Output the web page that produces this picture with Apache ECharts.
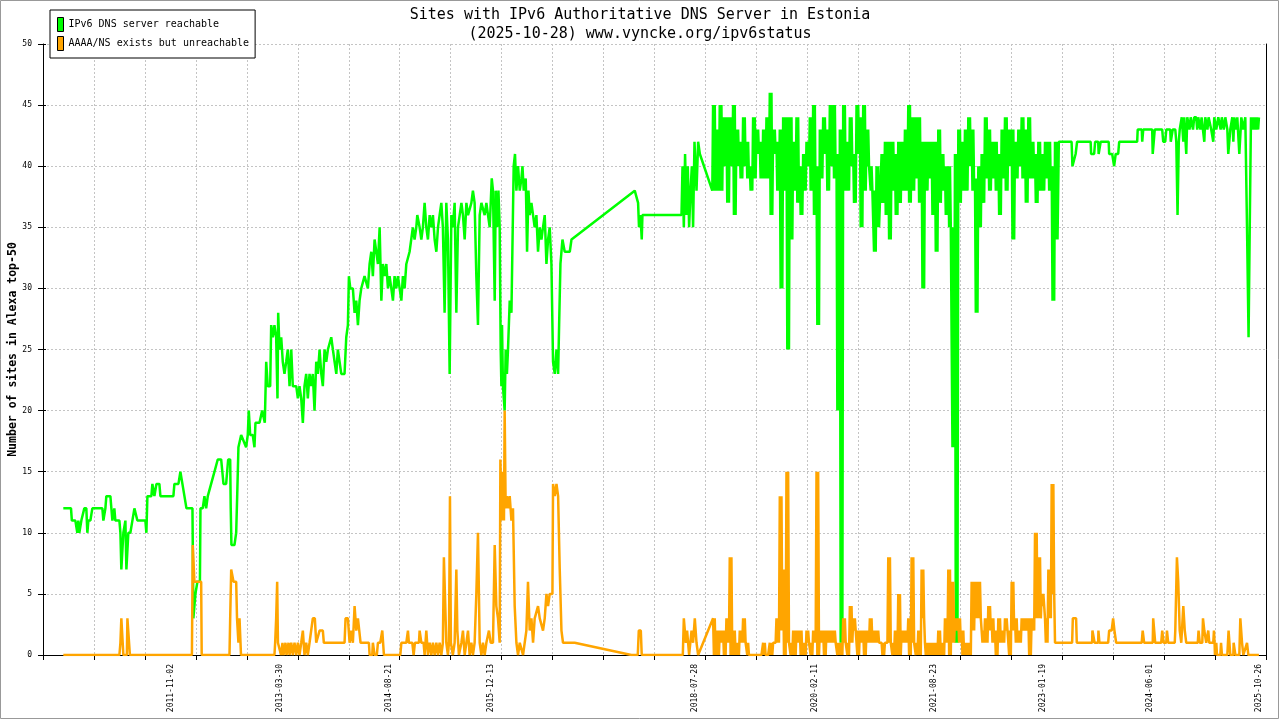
<!DOCTYPE html>
<html><head><meta charset="utf-8">
<script src="https://cdn.jsdelivr.net/npm/echarts@6/dist/echarts.min.js"></script>
<style>html,body{margin:0;padding:0;background:#fff}#c{width:1280px;height:720px}</style>
</head><body><div id="c"></div>
<script>
const titleLine1 = 'Sites with IPv6 Authoritative DNS Server in Estonia';
const titleLine2 = '(2025-10-28) www.vyncke.org/ipv6status';
const yAxisName = 'Number of sites in Alexa top-50';
const seriesNames = ['IPv6 DNS server reachable', 'AAAA/NS exists but unreachable'];
const xLabelDates = ['2011-11-02','2013-03-30','2014-08-21','2015-12-13','2018-07-28','2020-02-11','2021-08-23','2023-01-19','2024-06-01','2025-10-26'];
const xAxisStartYear = 2010.193;   // decimal year at the left axis
const xAxisSpanYears = 15.72;      // 24 tick intervals
const xTickYears = 0.655;
const yMin = 0, yMax = 50, yStep = 5;

// [decimal year, value]
const greenEarly = [[2010.454,12],[2010.553,12],[2010.564,11],[2010.609,11],[2010.634,10],[2010.647,11],[2010.660,10],[2010.686,11],[2010.724,12],[2010.750,12],[2010.763,10],[2010.776,11],[2010.802,11],[2010.827,12],[2010.956,12],[2010.969,11],[2010.995,12],[2011.007,13],[2011.059,13],[2011.072,12],[2011.085,11],[2011.110,12],[2011.123,11],[2011.175,11],[2011.188,10],[2011.200,7],[2011.226,10],[2011.252,11],[2011.265,7],[2011.290,10],[2011.316,10],[2011.342,11],[2011.368,12],[2011.393,12],[2011.406,11],[2011.509,11],[2011.522,10],[2011.535,13],[2011.586,13],[2011.599,14],[2011.625,13],[2011.651,14],[2011.689,14],[2011.702,13],[2011.869,13],[2011.882,14],[2011.934,14],[2011.959,15],[2011.985,14],[2012.011,13],[2012.037,12],[2012.114,12],[2012.126,3],[2012.152,5],[2012.178,6],[2012.210,6],[2012.217,12],[2012.246,12],[2012.268,13],[2012.290,12],[2012.311,13],[2012.333,13],[2012.354,14],[2012.397,15],[2012.439,16],[2012.483,16],[2012.513,14],[2012.547,14],[2012.573,16],[2012.599,16],[2012.606,12],[2012.615,9],[2012.654,9],[2012.676,10],[2012.689,13],[2012.705,17],[2012.740,18],[2012.804,17],[2012.825,18],[2012.838,20],[2012.856,18],[2012.889,18],[2012.911,17],[2012.924,19],[2012.976,19],[2013.010,20],[2013.044,19],[2013.062,24],[2013.082,22],[2013.113,22],[2013.126,27],[2013.147,26],[2013.168,27],[2013.190,26],[2013.207,21],[2013.216,28],[2013.233,25],[2013.255,26],[2013.275,24],[2013.297,23],[2013.319,24],[2013.340,25],[2013.362,22],
[2013.384,25],[2013.404,22],[2013.448,22],[2013.469,21],[2013.490,22],[2013.512,21],[2013.533,19],[2013.554,22],[2013.576,23],[2013.597,21],[2013.619,23],[2013.641,22],[2013.661,23],[2013.683,20],[2013.705,24],[2013.726,23],[2013.748,25],[2013.770,23],[2013.790,22],[2013.812,25],[2013.834,24],[2013.855,25],[2013.898,26],[2013.919,25],[2013.941,24],[2013.963,23],[2013.983,25],[2014.005,24],[2014.027,23],[2014.069,23],[2014.091,26],[2014.112,27],[2014.125,31],[2014.143,30],[2014.176,30],[2014.198,28],[2014.220,29],[2014.241,27],[2014.262,29],[2014.284,30],[2014.326,31],[2014.348,31],[2014.369,30],[2014.391,32],[2014.413,33],[2014.433,31],[2014.455,34],[2014.477,33],[2014.498,32],[2014.520,35],[2014.542,29],[2014.562,32],[2014.584,31],[2014.606,32],[2014.627,30],[2014.648,31],[2014.670,30],[2014.691,29],[2014.712,31],[2014.734,30],[2014.755,31],[2014.799,29],[2014.819,31],[2014.841,30],[2014.863,32],[2014.905,33],[2014.927,33],[2014.947,35],[2014.969,34],[2014.991,35],[2015.004,36],[2015.034,35],[2015.056,34],[2015.076,35],[2015.098,37],[2015.120,35],[2015.141,34],[2015.163,36],[2015.185,35],[2015.205,36],[2015.227,34],[2015.249,33],[2015.270,35],[2015.291,36],[2015.313,37],[2015.333,35],[2015.355,28],[2015.377,37],[2015.398,34],[2015.420,23],[2015.442,36],[2015.461,35],[2015.484,37],[2015.506,28],[2015.527,35],[2015.549,36],[2015.571,37],[2015.591,36],[2015.613,34],[2015.635,37],[2015.656,36],[2015.677,36],[2015.699,37],[2015.719,38],[2015.741,37],[2015.763,31],[2015.784,27],[2015.806,36],[2015.828,37],[2015.848,37],[2015.870,36],[2015.892,37],[2015.913,36],[2015.935,35],[2015.948,37],[2015.961,39],[2015.977,38],[2015.999,29],[2016.012,38],[2016.029,35],[2016.047,38],[2016.063,35],[2016.076,25],[2016.085,22],[2016.093,27],[2016.105,22],[2016.127,20],[2016.140,25],[2016.156,23],[2016.170,25],[2016.192,29],[2016.214,28],[2016.226,33],[2016.243,40],[2016.260,41],[2016.278,38],[2016.299,40],[2016.321,38],[2016.343,39],[2016.356,40],[2016.372,38],[2016.398,39],[2016.415,33],[2016.433,38],[2016.449,36],[2016.471,37],[2016.492,36],[2016.513,35],[2016.535,36],[2016.556,33],[2016.578,35],[2016.600,34],[2016.620,35],[2016.642,36],[2016.664,32],[2016.685,34],[2016.706,35],[2016.728,32],[2016.749,24],[2016.771,23],[2016.793,25],[2016.814,23],[2016.827,27],[2016.844,32],[2016.870,34],[2016.899,33],[2016.964,33],[2016.986,34],[2017.799,38],[2017.821,38],[2017.842,37],[2017.854,35],[2017.873,36],[2017.889,34],[2017.898,36],[2018.400,36],[2018.413,40],[2018.430,35],[2018.446,41],[2018.464,36],[2018.481,40],[2018.498,35],[2018.516,38],[2018.533,40],[2018.549,35],[2018.567,42],[2018.593,38],[2018.614,42],[2018.636,41],[2018.796,38]];

// dense periods: per column the top and bottom of the inked band, columns evenly spread over the span
const denseSpanA = [2018.806, 2020.950];
const denseSpanB = [2020.972, 2023.244];
const greenHighA = [45,43,45,44,44,44,45,43,42,44, 42,40,44,43,42,43,44,46,43,42, 43,44,44,44,42,44,40,41,42,44, 45,40,43,44,43,45,45,41,43,45, 42,44,41,45,44,45,43,40,38,40];
const greenLowA  = [38,38,38,40,37,40,36,40,39,40, 39,38,39,41,39,39,39,36,41,38, 30,38,25,34,38,37,36,38,40,38, 36,27,39,41,38,40,39,20,1,38, 38,40,37,41,35,38,40,38,33,35];
const greenHighB = [41,42,42,42,41,42,42,43,45,44, 44,44,42,42,42,42,42,43,41,40, 40,35,41,43,42,43,44,43,39,40, 41,44,43,42,42,41,43,44,43,43, 42,43,44,43,44,42,41,42,41,42, 42,40,42];
const greenLowB  = [37,36,34,38,36,37,38,38,37,38, 39,37,30,38,39,36,33,37,38,36, 35,17,1,37,38,38,40,38,28,35, 37,39,38,39,38,36,39,38,40,34, 39,40,39,37,39,39,37,38,38,39, 38,29,34];
const orangeHighA = [3,2,2,2,3,8,2,1,2,3, 1,0,0,0,0,1,0,1,1,3, 13,7,15,1,2,2,2,1,2,1, 2,15,2,2,2,2,2,1,1,3, 1,4,3,2,2,2,2,3,2,2];
const orangeLowA  = [0,0,1,0,1,0,0,0,1,1, 0,0,0,0,0,0,0,0,1,1, 2,0,1,0,0,1,0,0,1,0, 1,0,1,0,1,1,1,0,0,1, 0,1,2,0,1,0,1,1,1,1];
const orangeHighB = [1,1,8,1,2,5,2,2,3,8, 1,2,7,1,1,1,1,2,1,3, 7,6,3,3,2,1,1,6,6,6, 2,3,4,3,2,3,2,3,2,6, 3,2,3,3,3,3,10,8,5,3, 7,14,1];
const orangeLowB  = [0,1,1,0,0,0,1,1,0,1, 0,0,3,0,0,0,0,0,0,1, 0,1,2,1,0,0,0,2,3,3, 1,1,2,1,0,1,1,2,0,2, 1,1,2,2,0,2,3,3,4,1, 3,5,1];

const greenLate = [[2023.250,42],[2023.414,42],[2023.425,40],[2023.446,40],[2023.466,41],[2023.485,42],[2023.659,42],[2023.665,41],[2023.704,41],[2023.717,42],[2023.756,42],[2023.762,41],[2023.782,41],[2023.788,42],[2023.891,42],[2023.897,41],[2023.936,41],[2023.961,40],[2023.981,41],[2024.013,41],[2024.026,42],[2024.257,42],[2024.264,43],[2024.316,43],[2024.322,42],[2024.335,43],[2024.450,43],[2024.457,41],[2024.476,41],[2024.483,43],[2024.579,43],[2024.592,42],[2024.618,42],[2024.631,43],[2024.682,43],[2024.689,42],[2024.708,42],[2024.714,43],[2024.747,43],[2024.760,42],[2024.776,36],[2024.792,42],[2024.804,43],[2024.830,44],[2024.850,42],[2024.862,44],[2024.888,41],[2024.901,44],[2024.930,43],[2024.945,44],[2024.975,43],[2024.990,44],[2025.016,44],[2025.029,43],[2025.042,44],[2025.070,43],[2025.085,44],[2025.107,44],[2025.120,42],[2025.132,44],[2025.160,43],[2025.175,44],[2025.197,44],[2025.209,43],[2025.235,42],[2025.248,44],[2025.274,43],[2025.300,44],[2025.330,43],[2025.345,44],[2025.370,43],[2025.390,44],[2025.416,43],[2025.428,41],[2025.454,43],[2025.480,44],[2025.493,42],[2025.506,44],[2025.525,43],[2025.544,44],[2025.570,41],[2025.596,44],[2025.620,43],[2025.647,44],[2025.669,35],[2025.689,26],[2025.704,35],[2025.720,44],[2025.735,43],[2025.749,44],[2025.762,43],[2025.775,44],[2025.790,43],[2025.801,44],[2025.812,43],[2025.822,44]];

const orangeEarly = [[2010.454,0],[2011.175,0],[2011.188,1],[2011.200,3],[2011.213,3],[2011.226,0],[2011.271,0],[2011.278,3],[2011.297,3],[2011.310,0],[2012.107,0],[2012.118,9],[2012.133,9],[2012.139,6],[2012.226,6],[2012.233,0],[2012.590,0],[2012.599,3],[2012.612,7],[2012.633,7],[2012.642,6],[2012.676,6],[2012.687,3],[2012.705,1],[2012.719,3],[2012.738,0],[2013.168,0],[2013.177,1],[2013.190,3],[2013.203,6],[2013.213,1],[2013.233,1],[2013.252,0],[2013.271,1],[2013.284,0],[2013.310,1],[2013.323,0],[2013.349,1],[2013.362,0],
[2013.384,1],[2013.404,0],[2013.426,1],[2013.448,0],[2013.469,1],[2013.490,0],[2013.512,1],[2013.533,2],[2013.554,0],[2013.576,1],[2013.597,0],[2013.619,1],[2013.641,1],[2013.661,3],[2013.687,3],[2013.705,1],[2013.748,2],[2013.790,2],[2013.803,1],[2014.069,1],[2014.082,3],[2014.112,3],[2014.134,1],[2014.155,2],[2014.176,1],[2014.198,4],[2014.220,2],[2014.241,3],[2014.262,3],[2014.275,1],[2014.382,1],[2014.391,0],[2014.425,0],[2014.433,1],[2014.455,0],[2014.484,0],[2014.498,1],[2014.528,1],[2014.554,2],[2014.575,0],[2014.786,0],[2014.799,1],[2014.863,1],[2014.884,2],[2014.896,1],[2014.940,1],[2014.957,0],[2014.973,1],[2015.025,1],[2015.034,2],[2015.056,1],[2015.085,1],[2015.098,0],[2015.120,2],[2015.141,0],[2015.163,1],[2015.185,0],[2015.205,1],[2015.227,0],[2015.249,1],[2015.270,0],[2015.291,1],[2015.313,0],[2015.333,1],[2015.346,8],[2015.364,8],[2015.377,1],[2015.398,0],[2015.411,1],[2015.424,13],[2015.436,1],[2015.461,0],[2015.484,1],[2015.506,7],[2015.519,2],[2015.539,0],[2015.571,1],[2015.591,2],[2015.613,0],[2015.635,1],[2015.656,2],[2015.677,0],[2015.699,1],[2015.719,0],[2015.741,1],[2015.763,5],[2015.784,10],[2015.806,1],[2015.828,0],[2015.848,1],[2015.870,0],[2015.892,1],[2015.925,2],[2015.948,1],[2015.977,1],[2015.999,9],[2016.020,4],[2016.041,3],[2016.063,1],[2016.072,16],[2016.089,11],[2016.105,15],[2016.118,11],[2016.127,20],[2016.140,12],[2016.156,13],[2016.175,12],[2016.192,13],[2016.214,11],[2016.234,12],[2016.256,4],[2016.278,1],[2016.299,0],[2016.321,1],[2016.363,0],[2016.406,2],[2016.427,6],[2016.449,2],[2016.471,3],[2016.492,1],[2016.513,3],[2016.556,4],[2016.578,3],[2016.620,2],[2016.642,3],[2016.664,5],[2016.685,4],[2016.706,5],[2016.741,5],[2016.749,14],[2016.771,13],[2016.793,14],[2016.814,13],[2016.835,7],[2016.857,2],[2016.877,1],[2017.027,1],[2017.757,0],[2017.838,0],[2017.851,2],[2017.877,2],[2017.889,0],[2018.417,0],[2018.430,3],[2018.456,1],[2018.472,2],[2018.498,0],[2018.529,2],[2018.549,1],[2018.571,3],[2018.593,1],[2018.614,0]];

const orangeLate = [[2023.267,1],[2023.421,1],[2023.430,3],[2023.472,3],[2023.481,1],[2023.678,1],[2023.682,2],[2023.704,2],[2023.710,1],[2023.756,1],[2023.759,2],[2023.772,1],[2023.884,1],[2023.897,2],[2023.929,2],[2023.948,3],[2023.965,2],[2023.987,1],[2024.315,1],[2024.328,2],[2024.347,1],[2024.457,1],[2024.463,3],[2024.489,1],[2024.566,1],[2024.579,2],[2024.598,1],[2024.631,1],[2024.640,2],[2024.656,1],[2024.740,1],[2024.747,2],[2024.768,8],[2024.785,6],[2024.804,2],[2024.824,1],[2024.850,4],[2024.869,2],[2024.888,1],[2025.036,1],[2025.046,2],[2025.062,1],[2025.094,1],[2025.103,3],[2025.120,2],[2025.145,1],[2025.171,2],[2025.184,1],[2025.235,1],[2025.244,2],[2025.252,1],[2025.257,0],[2025.274,1],[2025.283,0],[2025.326,0],[2025.335,1],[2025.347,0],[2025.416,0],[2025.432,2],[2025.454,0],[2025.493,0],[2025.497,1],[2025.519,0],[2025.570,0],[2025.583,3],[2025.605,1],[2025.622,0],[2025.669,1],[2025.686,0],[2025.822,0]];

const FONT = 'DejaVu Sans Mono';
// each column is drawn as a tight up/down stroke pair covering its band
function zigzag(span, hi, lo) {
  const step = (span[1] - span[0]) / hi.length, out = [];
  for (let i = 0; i < hi.length; i++) {
    const t = span[0] + i * step;
    out.push([t, hi[i]], [t + step * 0.25, lo[i]], [t + step * 0.5, hi[i]], [t + step * 0.75, lo[i]]);
  }
  return out;
}
function toAxis(points) { return points.map(p => [p[0] - xAxisStartYear, p[1]]); }
const greenData = toAxis([].concat(greenEarly, zigzag(denseSpanA, greenHighA, greenLowA), zigzag(denseSpanB, greenHighB, greenLowB), greenLate));
const orangeData = toAxis([].concat(orangeEarly, zigzag(denseSpanA, orangeHighA, orangeLowA), zigzag(denseSpanB, orangeHighB, orangeLowB), orangeLate));

function decYear(s) {
  const [y, m, d] = s.split('-').map(Number);
  const t = Date.UTC(y, m - 1, d), a = Date.UTC(y, 0, 1), b = Date.UTC(y + 1, 0, 1);
  return y + (t - a) / (b - a);
}
const labelOffsets = xLabelDates.map(s => decYear(s) - xAxisStartYear);
function labelFor(v) {
  let best = 0;
  labelOffsets.forEach((o, i) => { if (Math.abs(o - v) < Math.abs(labelOffsets[best] - v)) best = i; });
  return xLabelDates[best];
}

const gridLine = {show: true, lineStyle: {color: '#c4c4c4', type: [2, 2], width: 1}};
const chart = echarts.init(document.getElementById('c'), null, {renderer: 'canvas'});
chart.setOption({
  animation: false,
  backgroundColor: '#fff',
  title: [
    {text: titleLine1, left: 'center', top: 3, textStyle: {fontFamily: FONT, fontSize: 15, fontWeight: 'normal', color: '#000'}},
    {text: titleLine2, left: 'center', top: 22, textStyle: {fontFamily: FONT, fontSize: 15, fontWeight: 'normal', color: '#000'}}
  ],
  legend: {
    left: 50, top: 10, orient: 'vertical', padding: [7, 6, 7, 7], itemGap: 4,
    itemWidth: 6, itemHeight: 14, icon: 'rect',
    backgroundColor: '#fff', borderColor: '#000', borderWidth: 1, borderRadius: 0,
    textStyle: {fontFamily: FONT, fontSize: 10, color: '#000'},
    itemStyle: {borderColor: '#000', borderWidth: 1},
    data: seriesNames
  },
  grid: {left: 43, right: 14, top: 44, bottom: 65, containLabel: false, outerBoundsMode: 'none'},
  xAxis: {
    type: 'value', min: 0, max: xAxisSpanYears, interval: xTickYears,
    axisLine: {show: true, onZero: false, lineStyle: {color: '#000', width: 1}},
    axisTick: {show: true, length: 5, lineStyle: {color: '#000'}},
    axisLabel: {customValues: labelOffsets, rotate: 90, formatter: labelFor, fontFamily: FONT, fontSize: 8, color: '#000', margin: 9},
    splitLine: gridLine
  },
  yAxis: [
    {
      type: 'value', min: yMin, max: yMax, interval: yStep, position: 'left', offset: 0,
      axisLine: {show: true, lineStyle: {color: '#000', width: 1}},
      axisTick: {show: true, length: 5, lineStyle: {color: '#000'}},
      axisLabel: {fontFamily: FONT, fontSize: 8, color: '#000', margin: 11},
      splitLine: gridLine,
      name: yAxisName, nameLocation: 'middle', nameGap: 24, nameMoveOverlap: false,
      nameTextStyle: {fontFamily: FONT, fontSize: 11.5, fontWeight: 'bold', color: '#000'}
    },
    {
      type: 'value', min: yMin, max: yMax, interval: yStep, position: 'left', offset: 0,
      axisLine: {show: false}, axisTick: {show: true, inside: true, length: 3, lineStyle: {color: '#000'}},
      axisLabel: {show: false}, splitLine: {show: false}
    },
    {
      type: 'value', min: yMin, max: yMax, interval: yStep, position: 'right', offset: 0,
      axisLine: {show: true, lineStyle: {color: '#000', width: 1}}, axisTick: {show: false},
      axisLabel: {show: false}, splitLine: {show: false}
    }
  ],
  series: [
    {name: seriesNames[0], type: 'line', data: greenData, symbol: 'none', showSymbol: false,
     lineStyle: {color: '#00ff00', width: 2.5}, itemStyle: {color: '#00ff00'}, z: 2},
    {name: seriesNames[1], type: 'line', data: orangeData, symbol: 'none', showSymbol: false,
     lineStyle: {color: '#ffa500', width: 2.5}, itemStyle: {color: '#ffa500'}, z: 3}
  ],
  graphic: [{type: 'rect', silent: true, z: 100, shape: {x: 0.5, y: 0.5, width: 1278, height: 718},
             style: {fill: null, stroke: '#999', lineWidth: 1}}]
});
</script></body></html>
